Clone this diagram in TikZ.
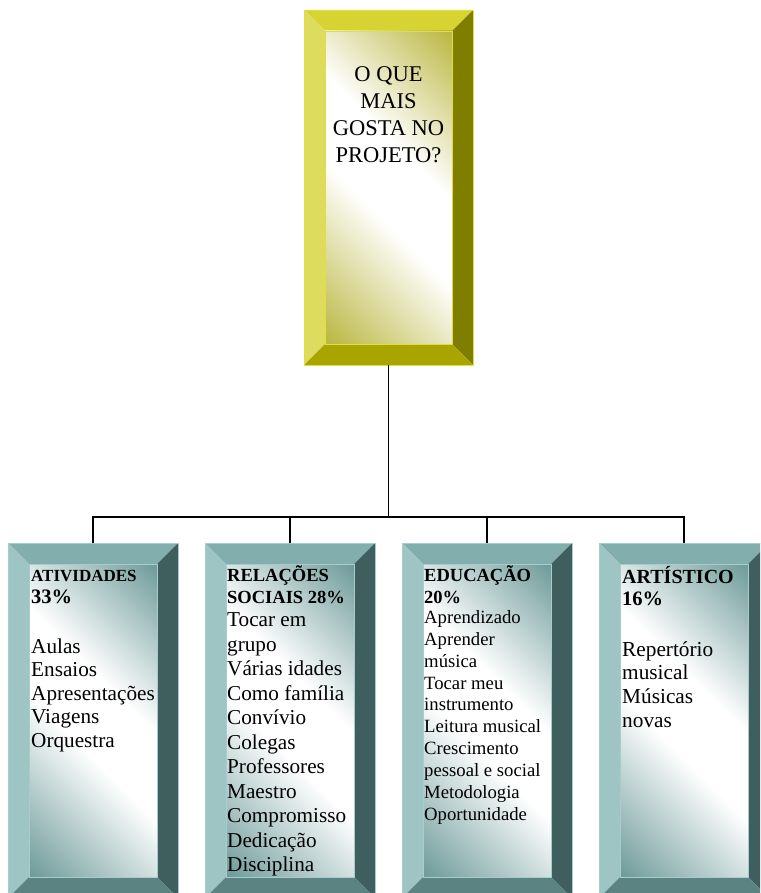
\documentclass[tikz,border=0pt]{standalone}
\usepackage{fontspec}
\setmainfont{Liberation Serif}
\usetikzlibrary{calc}
\definecolor{yel-top}{HTML}{D6D333}
\definecolor{yel-left}{HTML}{DEDC5E}
\definecolor{yel-right}{HTML}{807E00}
\definecolor{yel-bottom}{HTML}{A9A500}
\definecolor{yel-line}{HTML}{E2DF3C}
\definecolor{yel-in}{HTML}{B9B53C}
\definecolor{teal-top}{HTML}{82AFAE}
\definecolor{teal-left}{HTML}{9EC4C3}
\definecolor{teal-right}{HTML}{3F5F5E}
\definecolor{teal-bottom}{HTML}{5A8382}
\definecolor{teal-line}{HTML}{A8CCCB}
\definecolor{teal-in}{HTML}{6A9897}
\pgfdeclareverticalshading{yel-shade}{100bp}{color(0bp)=(yel-in); color(14bp)=(yel-in);
  color(44bp)=(white); color(58bp)=(white); color(86bp)=(yel-in); color(100bp)=(yel-in)}
\pgfdeclareverticalshading{teal-shade}{100bp}{color(0bp)=(teal-in); color(14bp)=(teal-in);
  color(44bp)=(white); color(58bp)=(white); color(86bp)=(teal-in); color(100bp)=(teal-in)}

\begin{document}
\begin{tikzpicture}[x=1pt,y=-1pt,
  bevelbox/.style={inner sep=0pt, outer sep=0pt, draw=#1-line, line width=0.8pt,
    anchor=north west,
    path picture={
      \coordinate (b-nw) at (path picture bounding box.north west);
      \coordinate (b-ne) at (path picture bounding box.north east);
      \coordinate (b-sw) at (path picture bounding box.south west);
      \coordinate (b-se) at (path picture bounding box.south east);
      \coordinate (i-nw) at ($(b-nw)+(21,21)$);
      \coordinate (i-ne) at ($(b-ne)+(-21,21)$);
      \coordinate (i-sw) at ($(b-sw)+(21,-21)$);
      \coordinate (i-se) at ($(b-se)+(-21,-21)$);
      \fill[#1-top] (b-nw) -- (b-ne) -- (i-ne) -- (i-nw) -- cycle;
      \fill[#1-left] (b-nw) -- (i-nw) -- (i-sw) -- (b-sw) -- cycle;
      \fill[#1-right] (b-ne) -- (b-se) -- (i-se) -- (i-ne) -- cycle;
      \fill[#1-bottom] (b-sw) -- (i-sw) -- (i-se) -- (b-se) -- cycle;
      \shade[shading=#1-shade, shading angle=-45] (i-nw) rectangle (i-se);
      \draw[#1-line, line width=0.6pt] (i-nw) rectangle (i-se);
    }},
  connector/.style={draw=black, line width=1.6pt},
  toptext/.style={anchor=base, inner sep=0pt, font=\fontsize{22.5}{27}\selectfont},
  headtext/.style={anchor=base west, inner sep=0pt, font=\bfseries\fontsize{#1}{#1}\selectfont},
  itemtext/.style={anchor=base west, inner sep=0pt, font=\fontsize{#1}{#1}\selectfont},
]
  \useasboundingbox (0,0) rectangle (760,893);
  \clip (0,0) rectangle (760,893);

  % question box
  \node[bevelbox=yel, minimum width=169pt, minimum height=355pt] (quest) at (304,10) {};
  \foreach \t [count=\i from 0] in {O QUE,MAIS,GOSTA NO,PROJETO?}
    \node[toptext] (quest-\i) at (388.5,{81.7+27*\i}) {\t};

  % answer boxes
  \foreach \n [count=\i from 0] in {atv,rel,edu,art}
    \node[bevelbox=teal, minimum width=170pt, minimum height=355pt] (\n) at ({8+197*\i},543) {};

  % connectors
  \coordinate (hub) at ([yshift=-152pt]quest.south);
  \draw[connector] (quest.south) -- (hub);
  \foreach \n in {atv,rel,edu,art}
    \draw[connector] (hub) -| (\n.north);

  % atividades
  \node[headtext=17] (atv-h1) at (31,581) {ATIVIDADES};
  \node[headtext=20.5] (atv-h2) at (31,603) {33\%};
  \foreach \t [count=\i from 0] in {Aulas,Ensaios,Apresentações,Viagens,Orquestra}
    \node[itemtext=21.2] (atv-\i) at (31,{653+23.6*\i}) {\t};

  % relacoes sociais
  \node[headtext=18.5] (rel-h1) at (227,581) {RELAÇÕES};
  \node[headtext=18.5] (rel-h2) at (227,603) {SOCIAIS 28\%};
  \foreach \t [count=\i from 0] in {Tocar em,grupo,Várias idades,Como família,Convívio,Colegas,Professores,Maestro,Compromisso,Dedicação,Disciplina}
    \node[itemtext=21.2] (rel-\i) at (227,{626.7+24.5*\i}) {\t};

  % educacao
  \node[headtext=18.5] (edu-h1) at (424,581.7) {EDUCAÇÃO};
  \node[headtext=18.5] (edu-h2) at (424,603) {20\%};
  \foreach \t [count=\i from 0] in {Aprendizado,Aprender,música,Tocar meu,instrumento,Leitura musical,Crescimento,pessoal e social,Metodologia,Oportunidade}
    \node[itemtext=18.7] (edu-\i) at (424,{623.3+21.9*\i}) {\t};

  % artistico
  \node[headtext=20] (art-h1) at (622,583) {ARTÍSTICO};
  \node[headtext=20.5] (art-h2) at (622,605) {16\%};
  \foreach \t [count=\i from 0] in {Repertório,musical,Músicas,novas}
    \node[itemtext=21.3] (art-\i) at (622,{656+23.7*\i}) {\t};
\end{tikzpicture}
\end{document}
